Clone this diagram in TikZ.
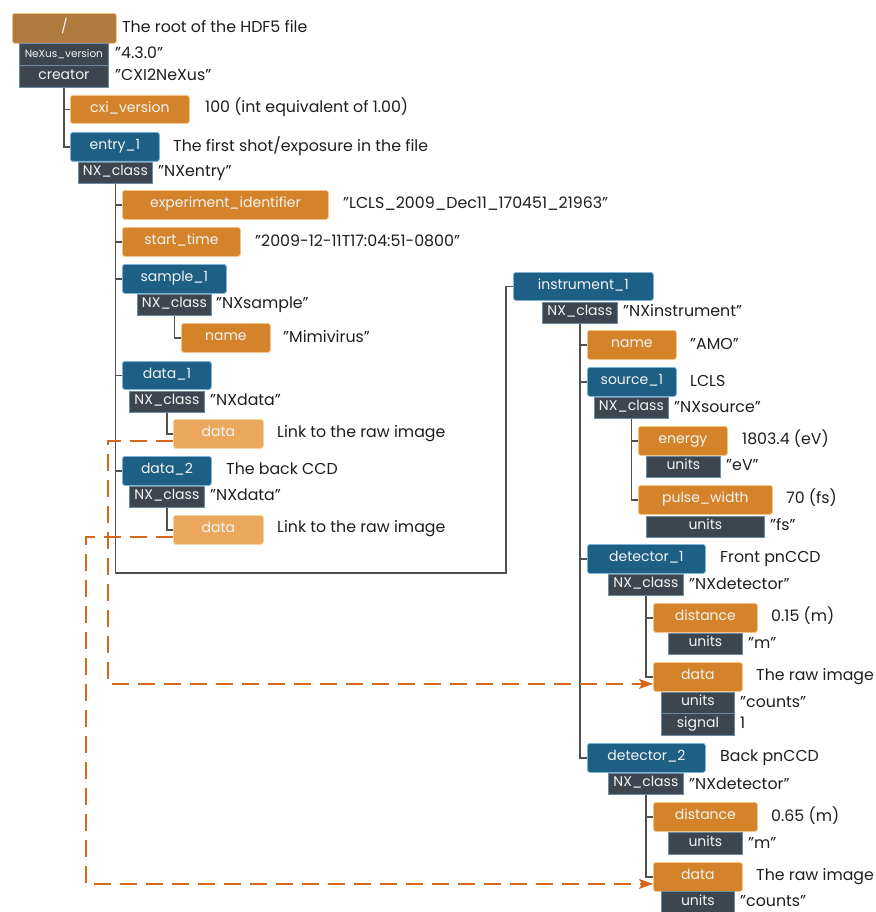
\documentclass[tikz,border=0pt]{standalone}
\usepackage{fontspec}
\setmainfont{Poppins}
\usetikzlibrary{arrows.meta}
\definecolor{croot}{HTML}{AE7A3D}
\definecolor{corange}{HTML}{D4832A}
\definecolor{corangeb}{HTML}{F6C48A}
\definecolor{cblue}{HTML}{1E5F85}
\definecolor{cblueb}{HTML}{7EB3D3}
\definecolor{cdark}{HTML}{3D464E}
\definecolor{cdarkb}{HTML}{6E8DA3}
\definecolor{clight}{HTML}{EBA85C}
\definecolor{clightb}{HTML}{F7D3A3}
\definecolor{cline}{HTML}{505050}
\definecolor{clink}{HTML}{D6681C}
\definecolor{ctext}{HTML}{1E1E1E}
\definecolor{cboxtext}{HTML}{F4F4F4}
\newcommand\lblfont{\fontsize{15.8}{18}\selectfont}
\newcommand\bxfont{\fontsize{14}{16}\selectfont}
\newcommand\smallbx{\fontsize{10.5}{12}\selectfont}
\tikzset{
  base/.style={rectangle, inner sep=0pt, anchor=north west, font=\bxfont,
    text=cboxtext, text height=0.6em, text depth=0pt, line width=0.8pt},
  grp/.style={base, fill=cblue, draw=cblueb, rounded corners=2.5pt},
  dset/.style={base, fill=corange, draw=corangeb, rounded corners=2.5pt},
  rootbx/.style={base, fill=croot, draw=corangeb, rounded corners=2.5pt},
  lnk/.style={base, fill=clight, draw=clightb, rounded corners=2.5pt},
  attr/.style={base, fill=cdark, draw=cdarkb},
  lbl/.style={anchor=west, inner sep=0pt, font=\lblfont, text=ctext,
    text height=0.95em, text depth=0pt},
  tree/.style={draw=cline, line width=1.4pt},
  link/.style={draw=clink, line width=2pt, dash pattern=on 17pt off 9pt,
    -{Stealth[length=14pt, width=10pt, inset=3pt]}},
}
\begin{document}
\begin{tikzpicture}[x=1pt, y=-1pt]
\useasboundingbox (0,0) rectangle (875,912);
% ---------- left tree ----------
\node[rootbx, minimum width=104, minimum height=30] (root) at (12,13) {/};
\node[attr, minimum width=89, minimum height=22, font=\smallbx] (nxver) at (19,43) {NeXus\_version};
\node[attr, minimum width=89, minimum height=22] (creator) at (19,65) {creator};
\node[dset, minimum width=119, minimum height=28] (cxi) at (70,95) {cxi\_version};
\node[grp, minimum width=89, minimum height=29] (entry) at (70,132) {entry\_1};
\node[attr, minimum width=74, minimum height=21] (entcls) at (78,162) {NX\_class};
\node[dset, minimum width=206, minimum height=29] (expid) at (122,190) {experiment\_identifier};
\node[dset, minimum width=118, minimum height=29] (start) at (122,227) {start\_time};
\node[grp, minimum width=104, minimum height=29] (sample) at (122,264) {sample\_1};
\node[attr, minimum width=74, minimum height=21] (smpcls) at (137,294) {NX\_class};
\node[dset, minimum width=89, minimum height=29] (sname) at (181,323) {name};
\node[grp, minimum width=89, minimum height=28] (data1) at (122,361) {data\_1};
\node[attr, minimum width=75, minimum height=21] (d1cls) at (129,391) {NX\_class};
\node[lnk, minimum width=90, minimum height=29] (d1data) at (173,419) {data};
\node[grp, minimum width=89, minimum height=29] (data2) at (122,456) {data\_2};
\node[attr, minimum width=75, minimum height=21] (d2cls) at (129,486) {NX\_class};
\node[lnk, minimum width=90, minimum height=29] (d2data) at (173,515) {data};
% ---------- right tree ----------
\node[grp, minimum width=140, minimum height=28] (instr) at (513,272) {instrument\_1};
\node[attr, minimum width=75, minimum height=21] (inscls) at (542,302) {NX\_class};
\node[dset, minimum width=89, minimum height=29] (iname) at (587,330) {name};
\node[grp, minimum width=89, minimum height=29] (source) at (587,367) {source\_1};
\node[attr, minimum width=74, minimum height=21] (srccls) at (594,397) {NX\_class};
\node[dset, minimum width=89, minimum height=29] (energy) at (638,426) {energy};
\node[attr, minimum width=74, minimum height=21] (enunits) at (646,456) {units};
\node[dset, minimum width=134, minimum height=29] (pulse) at (638,485) {pulse\_width};
\node[attr, minimum width=118, minimum height=21] (puunits) at (646,516) {units};
\node[grp, minimum width=118, minimum height=29] (det1) at (587,544) {detector\_1};
\node[attr, minimum width=75, minimum height=21] (d1ncls) at (608,574) {NX\_class};
\node[dset, minimum width=104, minimum height=29] (dist1) at (653,603) {distance};
\node[attr, minimum width=74, minimum height=21] (dist1u) at (668,633) {units};
\node[dset, minimum width=89, minimum height=29] (raw1) at (653,662) {data};
\node[attr, minimum width=73, minimum height=21] (raw1u) at (661,692) {units};
\node[attr, minimum width=73, minimum height=22] (raw1s) at (661,713) {signal};
\node[grp, minimum width=118, minimum height=29] (det2) at (587,743) {detector\_2};
\node[attr, minimum width=75, minimum height=21] (d2ncls) at (608,773) {NX\_class};
\node[dset, minimum width=104, minimum height=29] (dist2) at (653,802) {distance};
\node[attr, minimum width=74, minimum height=22] (dist2u) at (668,832) {units};
\node[dset, minimum width=89, minimum height=29] (raw2) at (653,862) {data};
\node[attr, minimum width=73, minimum height=22] (raw2u) at (661,891) {units};
% ---------- labels ----------
\node[lbl] (l-root) at (122,28) {The root of the HDF5 file};
\node[lbl] (l-nxver) at (115,54) {"4.3.0"};
\node[lbl] (l-creator) at (115,76) {"CXI2NeXus"};
\node[lbl] (l-cxi) at (205,108) {100 (int equivalent of 1.00)};
\node[lbl] (l-entry) at (173,147) {The first shot/exposure in the file};
\node[lbl] (l-entcls) at (158,172) {"NXentry"};
\node[lbl] (l-expid) at (343,204) {"LCLS\_2009\_Dec11\_170451\_21963"};
\node[lbl] (l-start) at (255,242) {"2009-12-11T17:04:51-0800"};
\node[lbl] (l-smpcls) at (216,304) {"NXsample"};
\node[lbl] (l-sname) at (283,338) {"Mimivirus"};
\node[lbl] (l-d1cls) at (210,401) {"NXdata"};
\node[lbl] (l-d1data) at (277,433) {Link to the raw image};
\node[lbl] (l-data2) at (226,470) {The back CCD};
\node[lbl] (l-d2cls) at (210,496) {"NXdata"};
\node[lbl] (l-d2data) at (277,528) {Link to the raw image};
\node[lbl] (l-inscls) at (623,312) {"NXinstrument"};
\node[lbl] (l-iname) at (690,345) {"AMO"};
\node[lbl] (l-source) at (690,382) {LCLS};
\node[lbl] (l-srccls) at (674,408) {"NXsource"};
\node[lbl] (l-energy) at (742,440) {1803.4 (eV)};
\node[lbl] (l-enunits) at (726,466) {"eV"};
\node[lbl] (l-pulse) at (786,499) {70 (fs)};
\node[lbl] (l-puunits) at (770,526) {"fs"};
\node[lbl] (l-det1) at (720,558) {Front pnCCD};
\node[lbl] (l-d1ncls) at (689,585) {"NXdetector"};
\node[lbl] (l-dist1) at (771,617) {0.15 (m)};
\node[lbl] (l-dist1u) at (748,644) {"m"};
\node[lbl] (l-raw1) at (756,676) {The raw image};
\node[lbl] (l-raw1u) at (740,703) {"counts"};
\node[lbl] (l-raw1s) at (740,724) {1};
\node[lbl] (l-det2) at (720,757) {Back pnCCD};
\node[lbl] (l-d2ncls) at (689,785) {"NXdetector"};
\node[lbl] (l-dist2) at (771,817) {0.65 (m)};
\node[lbl] (l-dist2u) at (748,844) {"m"};
\node[lbl] (l-raw2) at (756,876) {The raw image};
\node[lbl] (l-raw2u) at (740,902) {"counts"};
% ---------- tree connectors ----------
\draw[tree] (creator.south) |- (cxi.west);
\draw[tree] (creator.south) |- (entry.west);
\foreach \t in {expid,start,sample,data1,data2}
  \draw[tree] (entcls.south) |- (\t.west);
\coordinate (ibend) at (506,573);
\draw[tree] (entcls.south) |- (ibend) |- (instr.west);
\draw[tree] (smpcls.south) |- (sname.west);
\draw[tree] (d1cls.south) |- (d1data.west);
\draw[tree] (d2cls.south) |- (d2data.west);
\foreach \t in {iname,source,det1,det2}
  \draw[tree] (inscls.south) |- (\t.west);
\foreach \t in {energy,pulse}
  \draw[tree] (srccls.south) |- (\t.west);
\foreach \t in {dist1,raw1}
  \draw[tree] (d1ncls.south) |- (\t.west);
\foreach \t in {dist2,raw2}
  \draw[tree] (d2ncls.south) |- (\t.west);
% ---------- links ----------
\draw[link] ([yshift=-7pt]d1data.west) -| (108,684) |- ([yshift=-7pt]raw1.west);
\draw[link] ([yshift=-7pt]d2data.west) -| (86,883) |- ([yshift=-7pt]raw2.west);
\end{tikzpicture}
\end{document}
